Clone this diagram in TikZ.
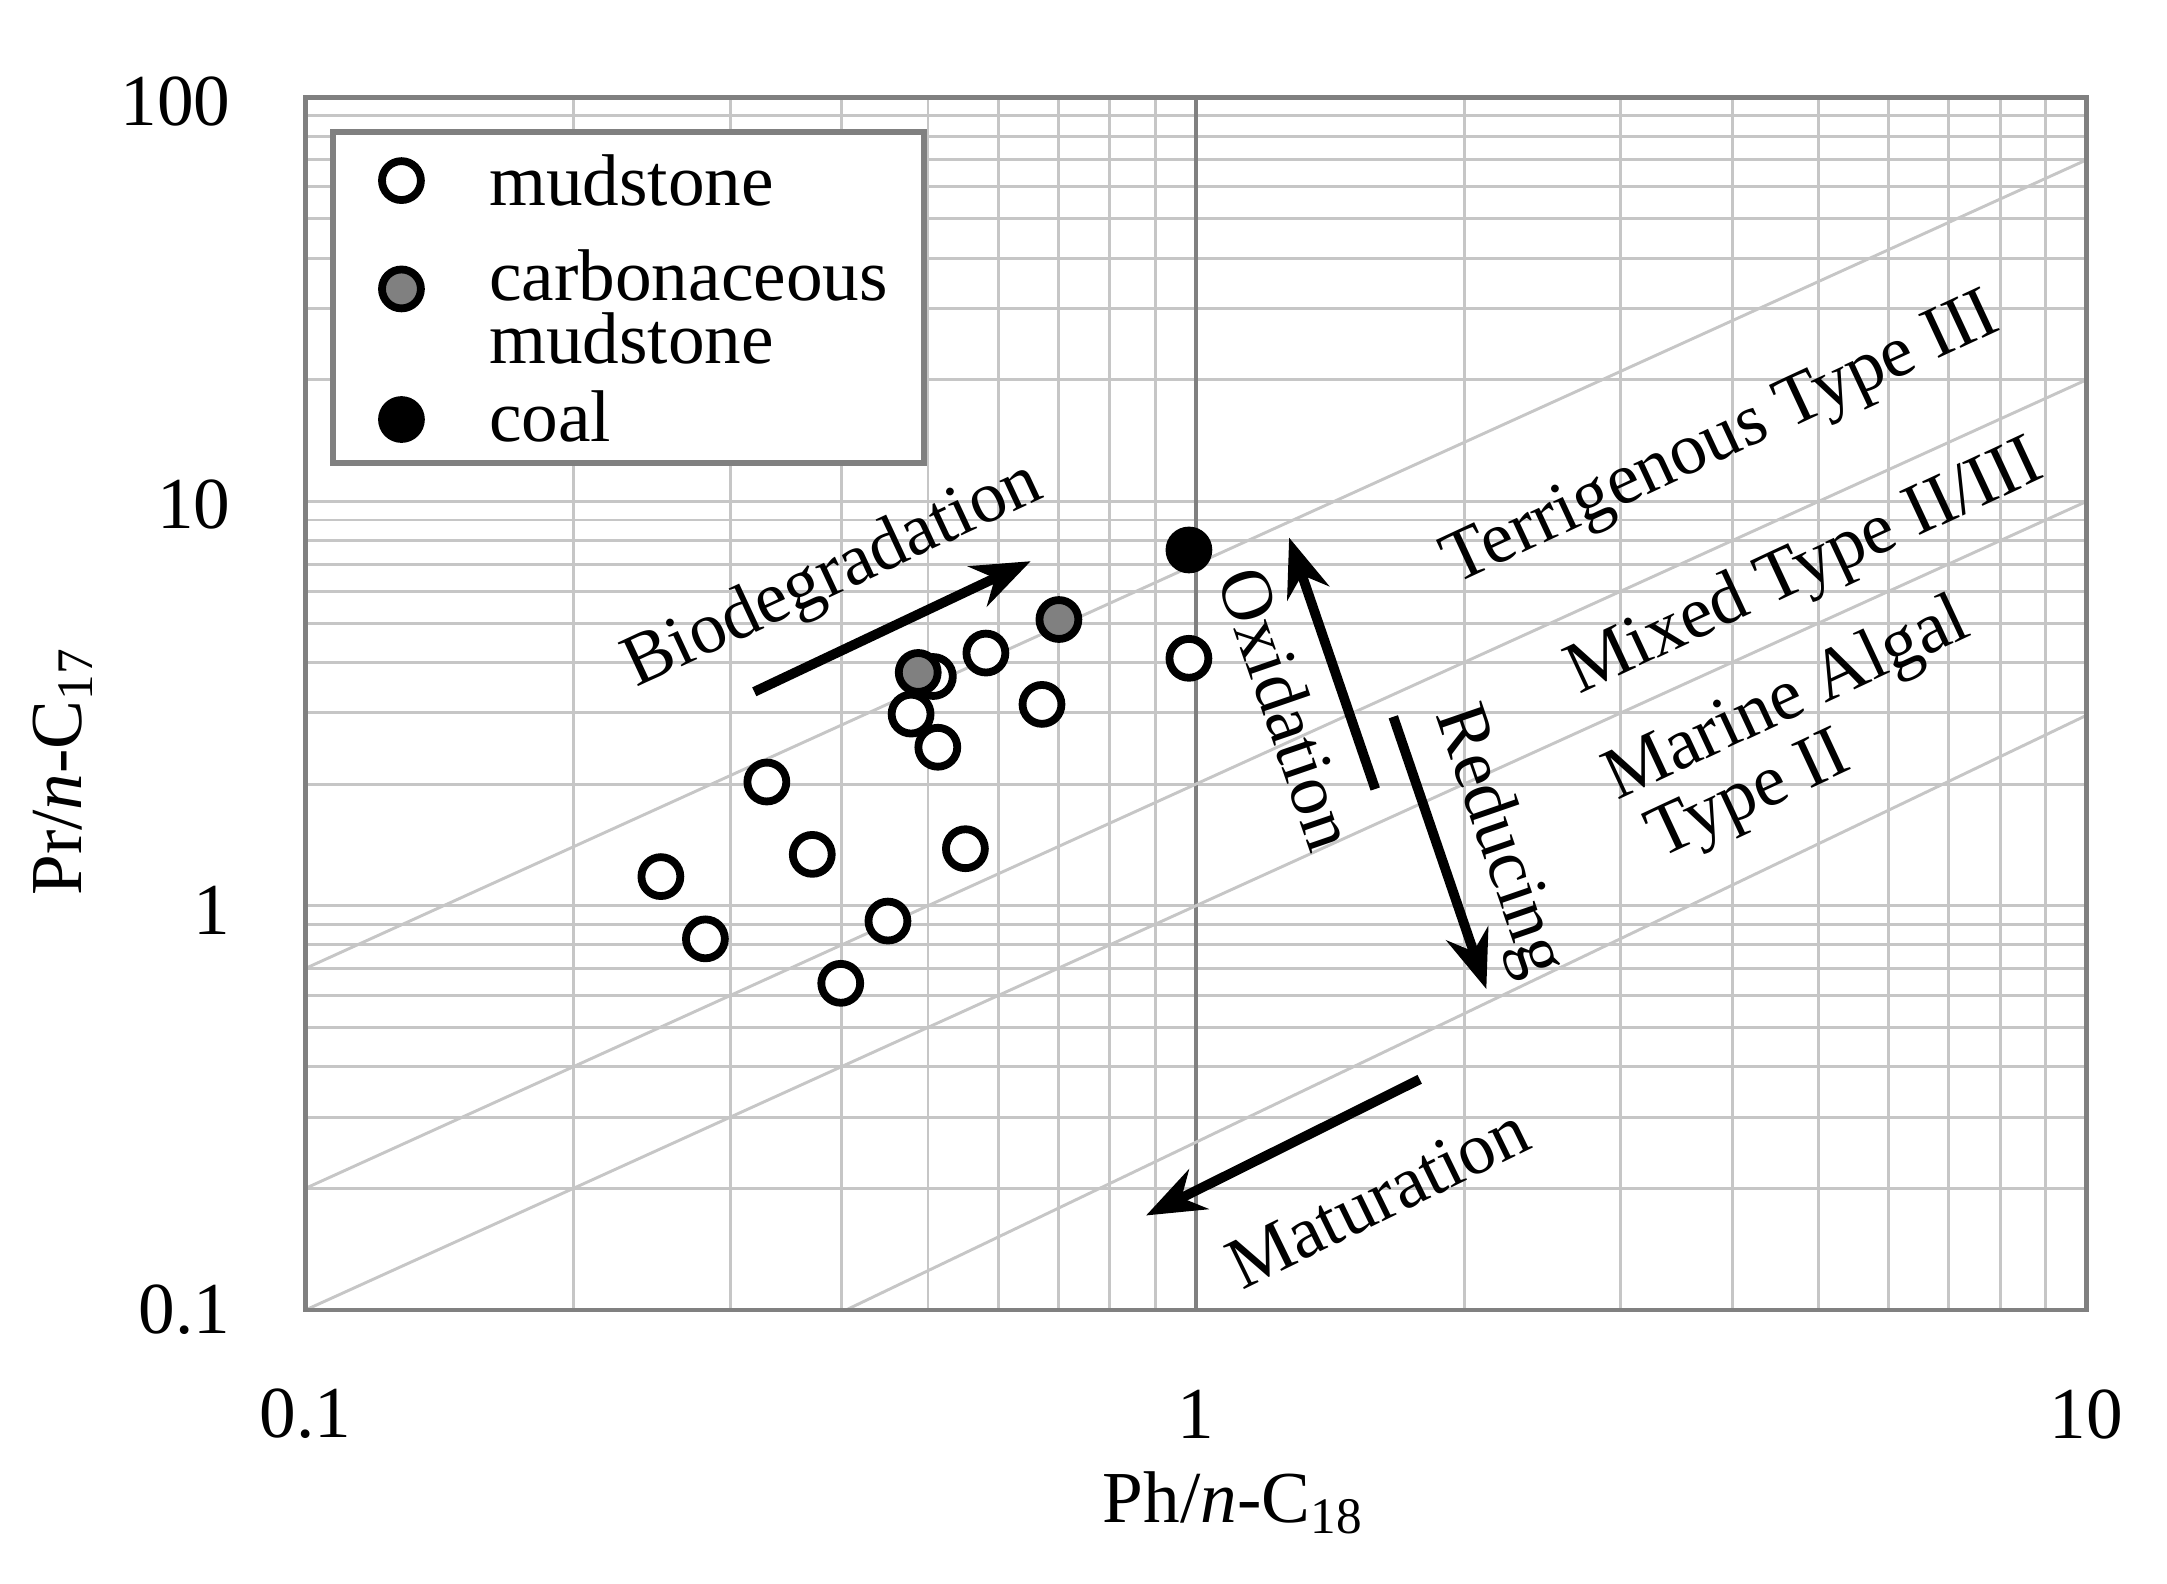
\documentclass[tikz,border=0pt]{standalone}
\usepackage{fontspec}
\setmainfont{Liberation Serif}
\usetikzlibrary{arrows.meta}
\begin{document}
\begin{tikzpicture}[
  open/.style={draw, line width=1.6pt, fill=white},
  lbl/.style={font=\fontsize{15}{17}\selectfont, inner sep=1pt},
  arr/.style={line width=2pt, -{Stealth[length=12pt, width=9pt]}}]
\useasboundingbox (0,0) rectangle (15.6,11.396);
\begin{scope}[shift={(2.20,1.966)}, x=6.41cm, y=2.91cm]
% minor grid
\foreach \d in {0,1}
    \foreach \m in {2,...,9}
		\draw[gray!45, line width=0.6pt] ({\d+log10(\m)}, 0) -- ({\d+log10(\m)}, 3);
\foreach \d in {0,1,2}
    \foreach \m in {2,...,9}
		\draw[gray!45, line width=0.6pt] (0, {\d+log10(\m)}) -- (2, {\d+log10(\m)});
\foreach \y in {1,2}
		\draw[gray!45, line width=0.6pt] (0, \y) -- (2, \y);
\draw[gray, line width=1pt] (1, 0) -- (1, 3);
% ratio lines
\draw[gray!45, line width=0.6pt] (0, {log10(7)}) -- (2, {2+log10(7)});
\draw[gray!45, line width=0.6pt] (0, {log10(2)}) -- (2, {2+log10(2)});
\draw[gray!45, line width=0.6pt] (0, 0) -- (2, 2);
\draw[gray!45, line width=0.6pt] (0.607, 0) -- (2, 1.471);
\draw[gray, line width=1pt] (0,0) rectangle (2,3);

% data
\node[circle, open, minimum size=0.28cm, inner sep=0] (p1) at (0.399, 1.072) {};
\node[circle, open, minimum size=0.28cm, inner sep=0] (p2) at (0.449, 0.918) {};
\node[circle, open, minimum size=0.28cm, inner sep=0] (p3) at (0.518, 1.306) {};
\node[circle, open, minimum size=0.28cm, inner sep=0] (p4) at (0.569, 1.127) {};
\node[circle, open, minimum size=0.28cm, inner sep=0] (p5) at (0.601, 0.808) {};
\node[circle, open, minimum size=0.28cm, inner sep=0] (p6) at (0.654, 0.962) {};
\node[circle, open, minimum size=0.28cm, inner sep=0] (p7) at (0.680, 1.474) {};
\node[circle, open, minimum size=0.28cm, inner sep=0] (p8) at (0.710, 1.392) {};
\node[circle, open, minimum size=0.28cm, inner sep=0] (p9) at (0.741, 1.141) {};
\node[circle, open, minimum size=0.28cm, inner sep=0] (p10) at (0.764, 1.625) {};
\node[circle, open, minimum size=0.28cm, inner sep=0] (p11) at (0.827, 1.498) {};
\node[circle, open, minimum size=0.28cm, inner sep=0] (p12) at (0.992, 1.612) {};
\node[circle, open, minimum size=0.28cm, inner sep=0] (p13) at (0.705, 1.567) {};
\node[circle, open, fill=gray, minimum size=0.28cm, inner sep=0] (g1) at (0.688, 1.577) {};
\node[circle, open, fill=gray, minimum size=0.28cm, inner sep=0] (g2) at (0.846, 1.708) {};
\node[circle, open, fill=black, minimum size=0.28cm, inner sep=0] (c1) at (0.992, 1.880) {};
\end{scope}

% legend
\draw[gray, line width=1.2pt, fill=white] (2.40,8.066) rectangle (6.65,10.446);
\node[circle, open, minimum size=0.28cm, inner sep=0] (lm) at (2.89,10.096) {};
\node[circle, open, fill=gray, minimum size=0.28cm, inner sep=0] (lc) at (2.89,9.316) {};
\node[circle, open, fill=black, minimum size=0.28cm, inner sep=0] (lk) at (2.89,8.376) {};
\node[lbl, anchor=west] (tm) at (3.48,10.096) {mudstone};
\node[lbl, anchor=west, align=left] (tc) at (3.48,9.186) {carbonaceous\\[-4pt]mudstone};
\node[lbl, anchor=west] (tk) at (3.48,8.396) {coal};

% axes
\node[lbl, anchor=east] (y100) at (1.70,10.666) {100};
\node[lbl, anchor=east] (y10) at (1.70,7.766) {10};
\node[lbl, anchor=east] (y1) at (1.70,4.846) {1};
\node[lbl, anchor=east] (y01) at (1.70,1.966) {0.1};
\node[lbl] (x01) at (2.20,1.216) {0.1};
\node[lbl] (x1) at (8.61,1.216) {1};
\node[lbl] (x10) at (15.02,1.216) {10};
\node[lbl] (xl) at (8.88,0.576) {Ph/\textit{n}-C\textsubscript{18}};
\node[lbl, rotate=90] (yl) at (0.45,5.846) {Pr/\textit{n}-C\textsubscript{17}};

% trends
\coordinate (b0) at (5.43,6.416);
\coordinate (b1) at (7.42,7.356);
\draw[arr] (b0) -- (b1);
\node[lbl, rotate=25] (bio) at (6.00,7.246) {Biodegradation};
\coordinate (o0) at (9.90,5.716);
\coordinate (o1) at (9.28,7.526);
\draw[arr] (o0) -- (o1);
\node[lbl, rotate=-71] (oxi) at (9.27,6.296) {Oxidation};
\coordinate (r0) at (10.03,6.236);
\coordinate (r1) at (10.70,4.276);
\draw[arr] (r0) -- (r1);
\node[lbl, rotate=-71] (red) at (10.78,5.336) {Reducing};
\coordinate (m0) at (10.22,3.626);
\coordinate (m1) at (8.25,2.646);
\draw[arr] (m0) -- (m1);
\node[lbl, rotate=26] (mat) at (9.92,2.776) {Maturation};

\node[lbl, rotate=25] (ter) at (12.40,8.216) {Terrigenous Type III};
\node[lbl, rotate=25] (mix) at (13.00,7.296) {Mixed Type II/III};
\node[lbl, rotate=25] (mar) at (12.87,6.346) {Marine Algal};
\node[lbl, rotate=25] (typ) at (12.60,5.646) {Type II};
\end{tikzpicture}
\end{document}
